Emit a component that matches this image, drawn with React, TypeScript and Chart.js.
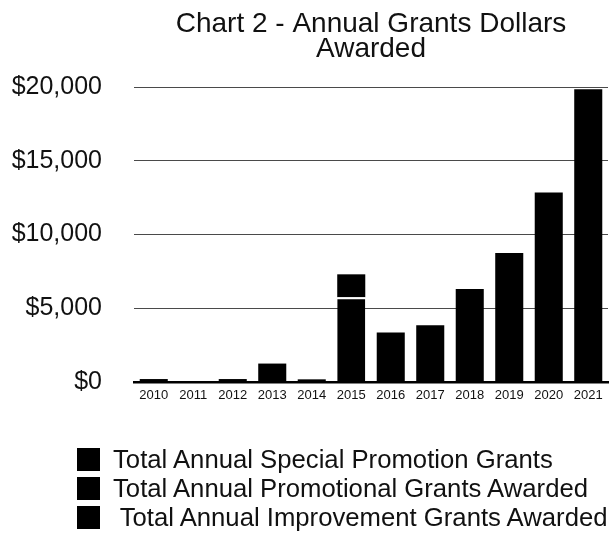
import { useEffect, useRef } from "react";
import { Chart, registerables } from "chart.js";

Chart.register(...registerables);

const years = ["2010", "2011", "2012", "2013", "2014", "2015", "2016", "2017", "2018", "2019", "2020", "2021"];
const improvementGrants = [200, 60, 200, 1250, 180, 5750, 3350, 3850, 6300, 8750, 12850, 19850];
const promotionalGrants = [0, 0, 0, 0, 0, 1550, 0, 0, 0, 0, 0, 0];
const specialPromotionGrants = [0, 0, 0, 0, 0, 0, 0, 0, 0, 0, 0, 0];
const legendLabels = [
  "Total Annual Special Promotion Grants",
  "Total Annual Promotional Grants Awarded",
  " Total Annual Improvement Grants Awarded",
];
const titleLines = ["Chart 2 - Annual Grants Dollars", "Awarded"];
const yMin = 0;
const yMax = 20000;
const yStep = 5000;

const FONT = '"Liberation Sans", Arial, Helvetica, sans-serif';

const titlePlugin = {
  id: "centeredTitle",
  afterDraw(chart: any) {
    const { ctx, chartArea } = chart;
    ctx.save();
    ctx.font = `28px ${FONT}`;
    ctx.fillStyle = "#111";
    ctx.textAlign = "center";
    ctx.textBaseline = "alphabetic";
    const cx = (chartArea.left + chartArea.right) / 2;
    titleLines.forEach((t, i) => ctx.fillText(t, cx, 32 + i * 25));
    ctx.restore();
  },
};

export default function App() {
  const canvasRef = useRef<HTMLCanvasElement | null>(null);

  useEffect(() => {
    if (!canvasRef.current) return;
    const chart = new Chart(canvasRef.current, {
      type: "bar",
      data: {
        labels: years,
        datasets: [
          {
            label: legendLabels[2],
            data: improvementGrants,
            backgroundColor: "#000",
            borderColor: "#fff",
            borderWidth: (ctx: any) => {
              const i = ctx.dataIndex;
              return promotionalGrants[i] + specialPromotionGrants[i] > 0 ? { top: 2, left: 0, right: 0, bottom: 0 } : 0;
            },
            borderSkipped: "start",
          },
          {
            label: legendLabels[1],
            data: promotionalGrants,
            backgroundColor: "#000",
            borderWidth: 0,
          },
          {
            label: legendLabels[0],
            data: specialPromotionGrants,
            backgroundColor: "#000",
            borderWidth: 0,
          },
        ],
      },
      options: {
        responsive: false,
        animation: false,
        devicePixelRatio: 1,
        layout: { padding: { top: 87, left: 0, right: 5, bottom: 123 } },
        plugins: {
          legend: { display: false },
          title: { display: false },
          tooltip: { enabled: false },
        },
        datasets: {
          bar: { categoryPercentage: 1, barPercentage: 0.71 },
        },
        scales: {
          x: {
            stacked: true,
            grid: { display: false, drawTicks: false },
            border: { display: true, color: "#000", width: 2.5 },
            ticks: {
              color: "#111",
              font: { family: FONT, size: 13 },
              padding: 6,
              maxRotation: 0,
              autoSkip: false,
            },
            afterFit: (scale: any) => {
              scale.height = 30;
            },
          },
          y: {
            stacked: true,
            min: yMin,
            max: yMax,
            grid: { color: "#4a4a4a", lineWidth: 1, drawTicks: false },
            border: { display: false },
            ticks: {
              stepSize: yStep,
              color: "#111",
              font: { family: FONT, size: 25 },
              padding: 32,
              callback: (v: any) => "$" + Number(v).toLocaleString("en-US"),
            },
            afterFit: (scale: any) => {
              scale.width = 134;
            },
          },
        },
      },
      plugins: [titlePlugin],
    } as any);
    return () => chart.destroy();
  }, []);

  return (
    <div style={{ position: "fixed", left: 0, top: 0, width: 613, height: 535, background: "#fff" }}>
      <canvas ref={canvasRef} width={613} height={535} style={{ width: 613, height: 535, display: "block" }} />
      {legendLabels.map((label, i) => (
        <div
          key={label}
          style={{ position: "absolute", left: 0, top: 444.5 + i * 29, height: 29, width: 613 }}
        >
          <div style={{ position: "absolute", left: 77, top: 3.5, width: 23, height: 23, background: "#000" }} />
          <div
            style={{
              position: "absolute",
              left: 113,
              top: 0,
              fontFamily: FONT,
              fontSize: 25.7,
              lineHeight: "29px",
              color: "#111",
              whiteSpace: "pre",
            }}
          >
            {label}
          </div>
        </div>
      ))}
    </div>
  );
}
